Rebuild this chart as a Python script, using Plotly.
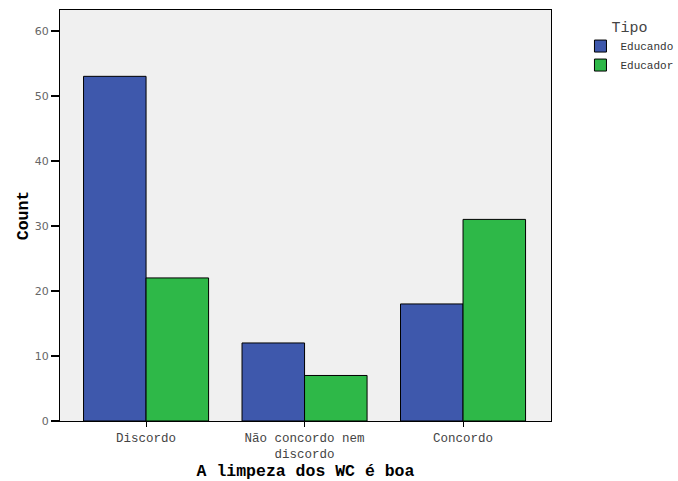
import plotly.graph_objects as go

categories = ["Discordo", "Não concordo nem<br>discordo", "Concordo"]
educando = [53, 12, 18]
educador = [22, 7, 31]
series_names = ["Educando", "Educador"]
y_ticks = [0, 10, 20, 30, 40, 50, 60]

mono = "Liberation Mono, Courier New, monospace"

fig = go.Figure()
fig.add_trace(go.Bar(x=categories, y=educando, name=series_names[0],
                     marker=dict(color="#3e58ac", line=dict(color="black", width=1))))
fig.add_trace(go.Bar(x=categories, y=educador, name=series_names[1],
                     marker=dict(color="#2eb848", line=dict(color="black", width=1))))

fig.update_layout(
    width=678, height=481,
    margin=dict(l=60, r=127, t=10, b=60, autoexpand=False),
    paper_bgcolor="white", plot_bgcolor="#f0f0f0",
    barmode="group", bargap=0.211, bargroupgap=0,
    showlegend=True,
    legend=dict(x=1.06, y=0.995, xanchor="left", yanchor="top",
                font=dict(family=mono, size=11, color="#333"),
                title=dict(text="Tipo", side="top center", font=dict(family=mono, size=15, color="#444")),
                itemwidth=30, tracegroupgap=0, bgcolor="rgba(0,0,0,0)"),
    xaxis=dict(type="category", range=[-0.543, 2.555], showline=True, linecolor="black",
               linewidth=1, mirror=True, ticks="outside", ticklen=5, tickcolor="black",
               tickfont=dict(family=mono, size=12.5, color="#444"), showgrid=False,
               title=dict(text="A limpeza dos WC é boa", font=dict(family=mono, size=16.5, color="black"),
                          standoff=6)),
    yaxis=dict(range=[0, 63.2], tickvals=y_ticks, showline=True, linecolor="black",
               linewidth=1, mirror=True, ticks="outside", ticklen=8, tickwidth=2, tickcolor="black",
               tickfont=dict(family="DejaVu Sans, sans-serif", size=11, color="#666"),
               showgrid=False, zeroline=False,
               title=dict(text="Count", font=dict(family=mono, size=16.5, color="black"), standoff=2)),
)
fig.update_xaxes(title_font=dict(weight="bold"))
fig.update_yaxes(title_font=dict(weight="bold"))

fig.write_html("out.html", config={"displayModeBar": False},
               post_script="document.body.style.margin='0px';document.body.style.padding='0px';")
